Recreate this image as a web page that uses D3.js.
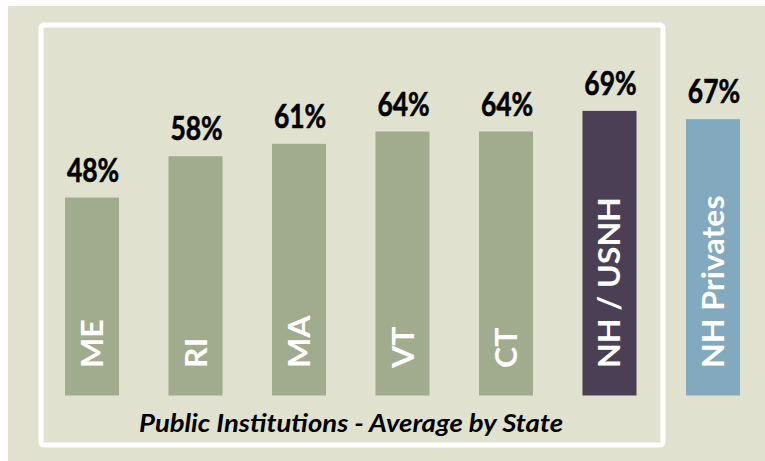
<html>
<head>
<script src="https://cdn.jsdelivr.net/npm/d3@7"></script>
<style>
  body { margin: 0; background: #fff; }
  svg { display: block; }
</style>
</head>
<body>
<svg width="765" height="461"></svg>
<script>
	// data
	var states = ['ME', 'RI', 'MA', 'VT', 'CT', 'NH / USNH', 'NH Privates'];
	var rates = [48, 58, 61, 64, 64, 69, 67];
	var barColors = ['#a1ab8d', '#a1ab8d', '#a1ab8d', '#a1ab8d', '#a1ab8d', '#4b3f55', '#82a9bd'];
	var subtitle = 'Public Institutions - Average by State';

	var humanist = 'Lato, "Open Sans", sans-serif';

	var svg = d3.select('svg');

	// background panel
	svg.append('rect')
		.attr('x', 8).attr('y', 6)
		.attr('width', 757).attr('height', 455)
		.style('fill', '#e0e2cf');

	// white frame round the public ones
	svg.append('rect')
		.attr('x', 41).attr('y', 25)
		.attr('width', 622).attr('height', 420)
		.attr('rx', 3)
		.style('fill', 'none')
		.style('stroke', '#fff')
		.style('stroke-width', 5);

	var x = d3.scaleBand()
		.domain(states)
		.range([65, 740])
		.paddingInner(0.478)
		.paddingOuter(0);

	var y = d3.scaleLinear()
		.domain([0, 100])
		.range([395.5, -17]);

	var data = states.map(function(s, i) { return { state: s, rate: rates[i], color: barColors[i] }; });

	var bars = svg.selectAll('g.bar').data(data)
		.enter().append('g').attr('class', 'bar');

	bars.append('rect')
		.attr('x', function(d) { return x(d.state); })
		.attr('y', function(d) { return y(d.rate); })
		.attr('width', x.bandwidth())
		.attr('height', function(d) { return y(0) - y(d.rate); })
		.style('fill', function(d) { return d.color; });

	// value on top (the original is squashed sideways)
	bars.append('text')
		.attr('transform', function(d) {
			return 'translate(' + (x(d.state) + x.bandwidth() / 2 + 1) + ',' + (y(d.rate) - 16) + ') scale(0.8,1)';
		})
		.attr('text-anchor', 'middle')
		.style('font-family', humanist)
		.style('font-weight', 'bold')
		.style('font-size', '33px')
		.style('stroke', '#000')
		.style('stroke-width', 0.6)
		.style('fill', '#000')
		.text(function(d) { return d.rate + '%'; });

	// name inside the bar, reading upwards
	bars.append('text')
		.attr('transform', function(d) {
			return 'translate(' + (x(d.state) + x.bandwidth() / 2 + 11) + ',368) rotate(-90) scale(1.07,1)';
		})
		.style('font-family', humanist)
		.style('font-weight', 'bold')
		.style('font-size', '30px')
		.style('fill', '#fff')
		.text(function(d) { return d.state; });

	svg.append('text')
		.attr('transform', 'translate(351,432) scale(1.1,1)')
		.attr('text-anchor', 'middle')
		.style('font-family', humanist)
		.style('font-weight', 'bold')
		.style('font-style', 'italic')
		.style('font-size', '25px')
		.style('fill', '#000')
		.text(subtitle);
</script>
</body>
</html>
